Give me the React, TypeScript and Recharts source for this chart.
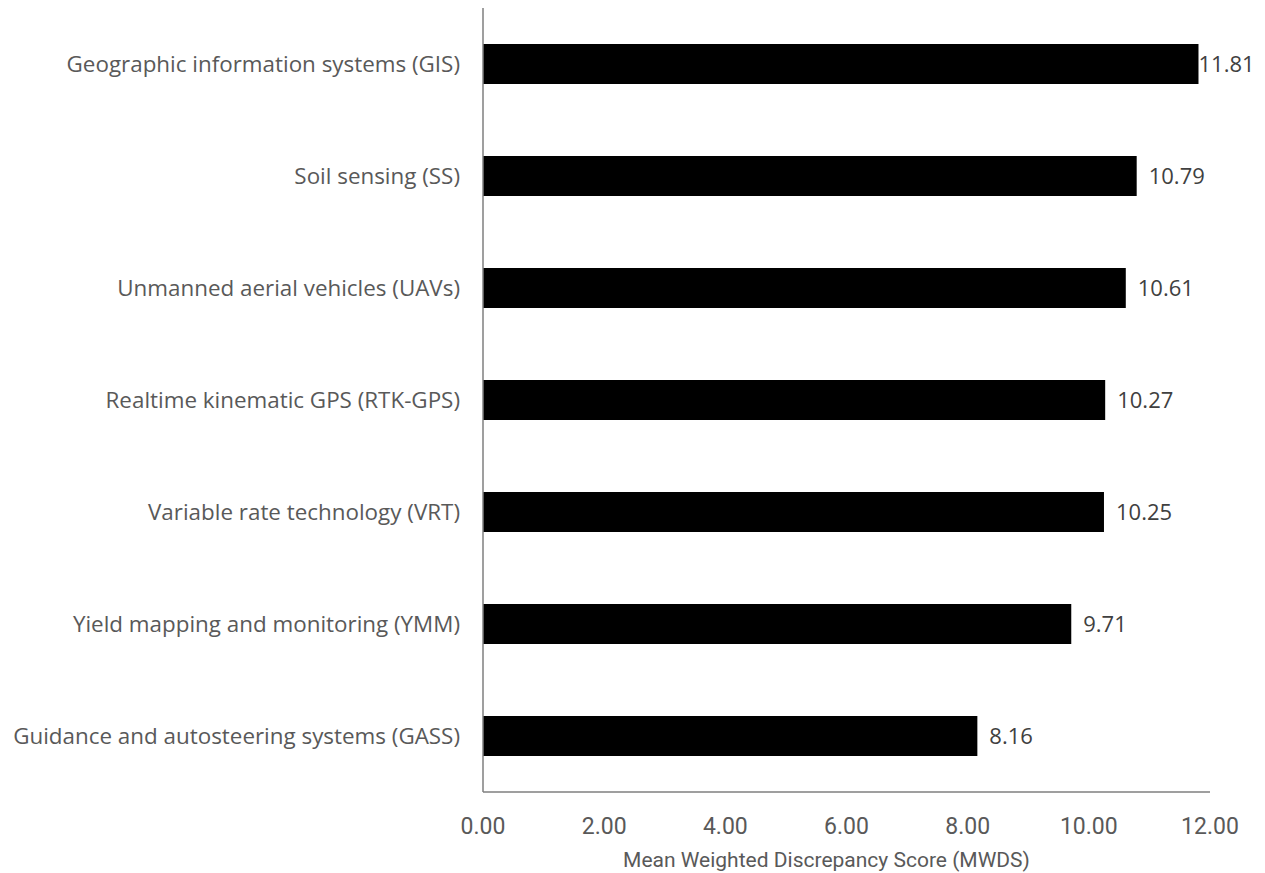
import React from "react";
import { BarChart, Bar, XAxis, YAxis, LabelList } from "recharts";

const categories = [
  "Geographic information systems (GIS)",
  "Soil sensing (SS)",
  "Unmanned aerial vehicles (UAVs)",
  "Realtime kinematic GPS (RTK-GPS)",
  "Variable rate technology (VRT)",
  "Yield mapping and monitoring (YMM)",
  "Guidance and autosteering systems (GASS)",
];
const mwdsValues = [11.81, 10.79, 10.61, 10.27, 10.25, 9.71, 8.16];
const xTicks = [0, 2, 4, 6, 8, 10, 12];
const xAxisTitle = "Mean Weighted Discrepancy Score (MWDS)";

const data = categories.map((name, i) => ({ name, value: mwdsValues[i] }));

const FONT = "'Open Sans', 'Noto Sans', sans-serif";
const NARROW = "'Liberation Sans Narrow', 'Roboto', sans-serif";

const ValueLabel = (props: any) => {
  const { x, y, width, height, value } = props;
  const end = x + width;
  const approxW = 58;
  const gap = end + 12 + approxW > 1258 ? 0 : 12;
  return (
    <text
      x={end + gap}
      y={y + height / 2}
      dy="0.35em"
      fill="#404040"
      fontSize={22}
      fontFamily={FONT}
      textAnchor="start"
    >
      {Number(value).toFixed(2)}
    </text>
  );
};

export default function App() {
  return (
    <div style={{ position: "absolute", left: 0, top: 0, width: 1265, height: 873, background: "#fff" }}>
      <BarChart
        width={1265}
        height={873}
        data={data}
        layout="vertical"
        margin={{ top: 8, right: 55, bottom: 0, left: 0 }}
      >
        <XAxis
          type="number"
          domain={[0, 12]}
          ticks={xTicks}
          tickFormatter={(v: number) => v.toFixed(2)}
          axisLine={{ stroke: "#7f7f7f", strokeWidth: 1.5 }}
          tickLine={false}
          tickMargin={20}
          tick={{ fill: "#595959", fontSize: 23, fontFamily: NARROW }}
          label={{
            value: xAxisTitle,
            position: "insideBottom",
            offset: 6,
            dx: -20,
            fill: "#595959",
            fontSize: 21,
            fontFamily: NARROW,
          }}
          height={81}
        />
        <YAxis
          type="category"
          dataKey="name"
          width={483}
          axisLine={{ stroke: "#7f7f7f", strokeWidth: 1.5 }}
          tickLine={false}
          tickMargin={17}
          interval={0}
          tick={{ fill: "#595959", fontSize: 22.4, fontFamily: FONT }}
        />
        <Bar dataKey="value" fill="#000000" barSize={40} isAnimationActive={false}>
          <LabelList dataKey="value" content={ValueLabel} />
        </Bar>
      </BarChart>
    </div>
  );
}
